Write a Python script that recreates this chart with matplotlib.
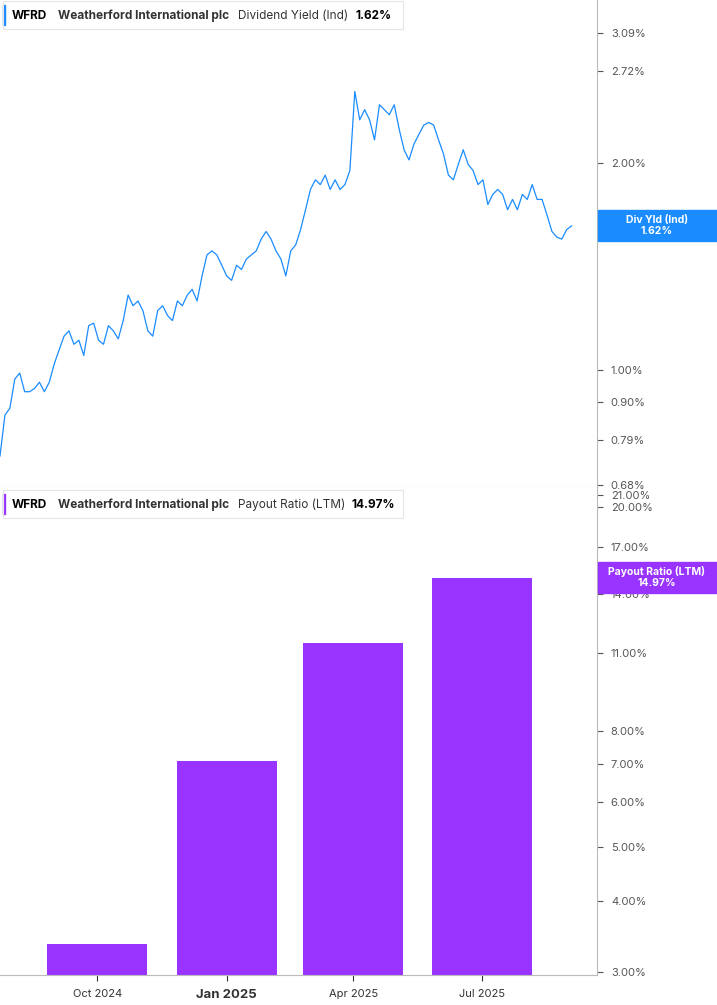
import matplotlib
matplotlib.use("Agg")
import matplotlib.pyplot as plt
from matplotlib.ticker import FixedLocator, NullLocator
import pandas as pd

plt.rcParams["font.family"] = "Inter"

# Dividend yield (%) sampled ~every 3.5 days from late Jul 2024
yield_start = "2024-07-24"
yield_pct = [0.75, 0.86, 0.88, 0.97, 0.99, 0.93, 0.93, 0.94, 0.96, 0.93, 0.96, 1.02, 1.07, 1.12, 1.14,
             1.09, 1.105, 1.05, 1.16, 1.17, 1.105, 1.09, 1.16, 1.14, 1.11, 1.18, 1.285, 1.24, 1.26,
             1.22, 1.14, 1.12, 1.22, 1.24, 1.20, 1.18, 1.26, 1.24, 1.285, 1.31, 1.26, 1.37, 1.47,
             1.49, 1.47, 1.42, 1.37, 1.35, 1.42, 1.40, 1.45, 1.47, 1.49, 1.55, 1.59, 1.55, 1.49,
             1.45, 1.37, 1.49, 1.52, 1.60, 1.71, 1.83, 1.89, 1.86, 1.92, 1.83, 1.89, 1.83, 1.86,
             1.95, 2.54, 2.31, 2.39, 2.31, 2.16, 2.43, 2.39, 2.35, 2.43, 2.24, 2.09, 2.02, 2.13,
             2.20, 2.27, 2.29, 2.27, 2.16, 2.06, 1.92, 1.89, 1.99, 2.09, 1.99, 1.95, 1.86, 1.89,
             1.74, 1.80, 1.83, 1.80, 1.71, 1.77, 1.71, 1.80, 1.77, 1.86, 1.77, 1.77, 1.68, 1.59,
             1.56, 1.55, 1.60, 1.62]

# Payout ratio (LTM, %) by quarter
payout_dates = ["2024-10-01", "2025-01-01", "2025-04-01", "2025-07-01"]
payout_pct = [3.36, 7.08, 11.47, 14.97]

yield_ticks = [0.68, 0.79, 0.90, 1.00, 2.00, 2.72, 3.09]
payout_ticks = [3, 4, 5, 6, 7, 8, 11, 14, 17, 20, 21]
x_ticks = ["2024-10-01", "2025-01-01", "2025-04-01", "2025-07-01"]
x_labels = ["Oct 2024", "Jan 2025", "Apr 2025", "Jul 2025"]

BLUE = "#1a8cff"
PURPLE = "#9933ff"
GREY = "#555555"

dates = pd.date_range(yield_start, periods=len(yield_pct), freq="3.5D")
xmin, xmax = pd.Timestamp("2024-07-24"), pd.Timestamp("2025-09-21")

fig = plt.figure(figsize=(7.17, 10.05), dpi=100)
ax1 = fig.add_axes([0, 0.5154, 0.8326, 0.4846])
ax2 = fig.add_axes([0, 0.02985, 0.8326, 0.4856])

ax1.plot(dates, yield_pct, color=BLUE, lw=0.9)
ax1.set_yscale("log")
ax1.set_ylim(0.676, 3.45)
ax1.yaxis.set_major_locator(FixedLocator(yield_ticks))
ax1.yaxis.set_minor_locator(NullLocator())
ax1.set_yticklabels([f"{v:.2f}%" for v in yield_ticks])

ax2.bar(pd.to_datetime(payout_dates), payout_pct, width=71, color=PURPLE)
ax2.set_yscale("log")
ax2.set_ylim(2.96, 21.7)
ax2.yaxis.set_major_locator(FixedLocator(payout_ticks))
ax2.yaxis.set_minor_locator(NullLocator())
ax2.set_yticklabels([f"{v:.2f}%" for v in payout_ticks])

for ax in (ax1, ax2):
    ax.set_xlim(xmin, xmax)
    ax.yaxis.tick_right()
    ax.tick_params(axis="y", labelsize=8, colors=GREY, length=4, pad=6)
    for s in ("top", "left"):
        ax.spines[s].set_visible(False)
    ax.spines["right"].set_color("#bbbbbb")
    ax.spines["bottom"].set_color("#bbbbbb")

ax1.set_xticks([])
ax2.set_xticks(pd.to_datetime(x_ticks))
ax2.set_xticklabels(x_labels)
ax2.tick_params(axis="x", labelsize=8, colors="#333333", length=4, pad=6)
for lbl in ax2.get_xticklabels():
    if lbl.get_text() == "Jan 2025":
        lbl.set_fontweight("bold")
        lbl.set_fontsize(9.5)


# header boxes
def header(y, color, metric, value):
    fig.patches.append(plt.Rectangle((3 / 717, y - 9 / 1005), 2 / 717, 20 / 1005,
                                     transform=fig.transFigure, color=color))
    fig.patches.append(plt.Rectangle((3 / 717, y - 13 / 1005), 400 / 717, 28 / 1005,
                                     transform=fig.transFigure, fill=False,
                                     edgecolor="#e5e5e5", lw=0.8))
    fig.text(12 / 717, y, "WFRD", fontsize=8.5, fontweight="bold", va="center")
    fig.text(58 / 717, y, "Weatherford International plc", fontsize=8.5,
             fontweight="bold", va="center", color="#333333")
    fig.text(metric[1] / 717, y, metric[0], fontsize=8.5, va="center", color="#333333")
    fig.text(value[1] / 717, y, value[0], fontsize=8.5, fontweight="bold", va="center")


header(1 - 16 / 1005, BLUE, ("Dividend Yield (Ind)", 238), ("1.62%", 355))
header(1 - 505 / 1005, PURPLE, ("Payout Ratio (LTM)", 238), ("14.97%", 351))


# right badges
def badge(ytop, h, color, l1, l2):
    fig.patches.append(plt.Rectangle((598 / 717, 1 - (ytop + h) / 1005), 119 / 717, h / 1005,
                                     transform=fig.transFigure, color=color))
    yc = 1 - (ytop + h / 2) / 1005
    fig.text(657 / 717, yc + 6 / 1005, l1, ha="center", va="center", color="white",
             fontsize=7.5, fontweight="bold")
    fig.text(657 / 717, yc - 6 / 1005, l2, ha="center", va="center", color="white",
             fontsize=7.5, fontweight="bold")


badge(210, 31, BLUE, "Div Yld (Ind)", "1.62%")
badge(562, 31, PURPLE, "Payout Ratio (LTM)", "14.97%")

fig.savefig("out.png", dpi=100)
